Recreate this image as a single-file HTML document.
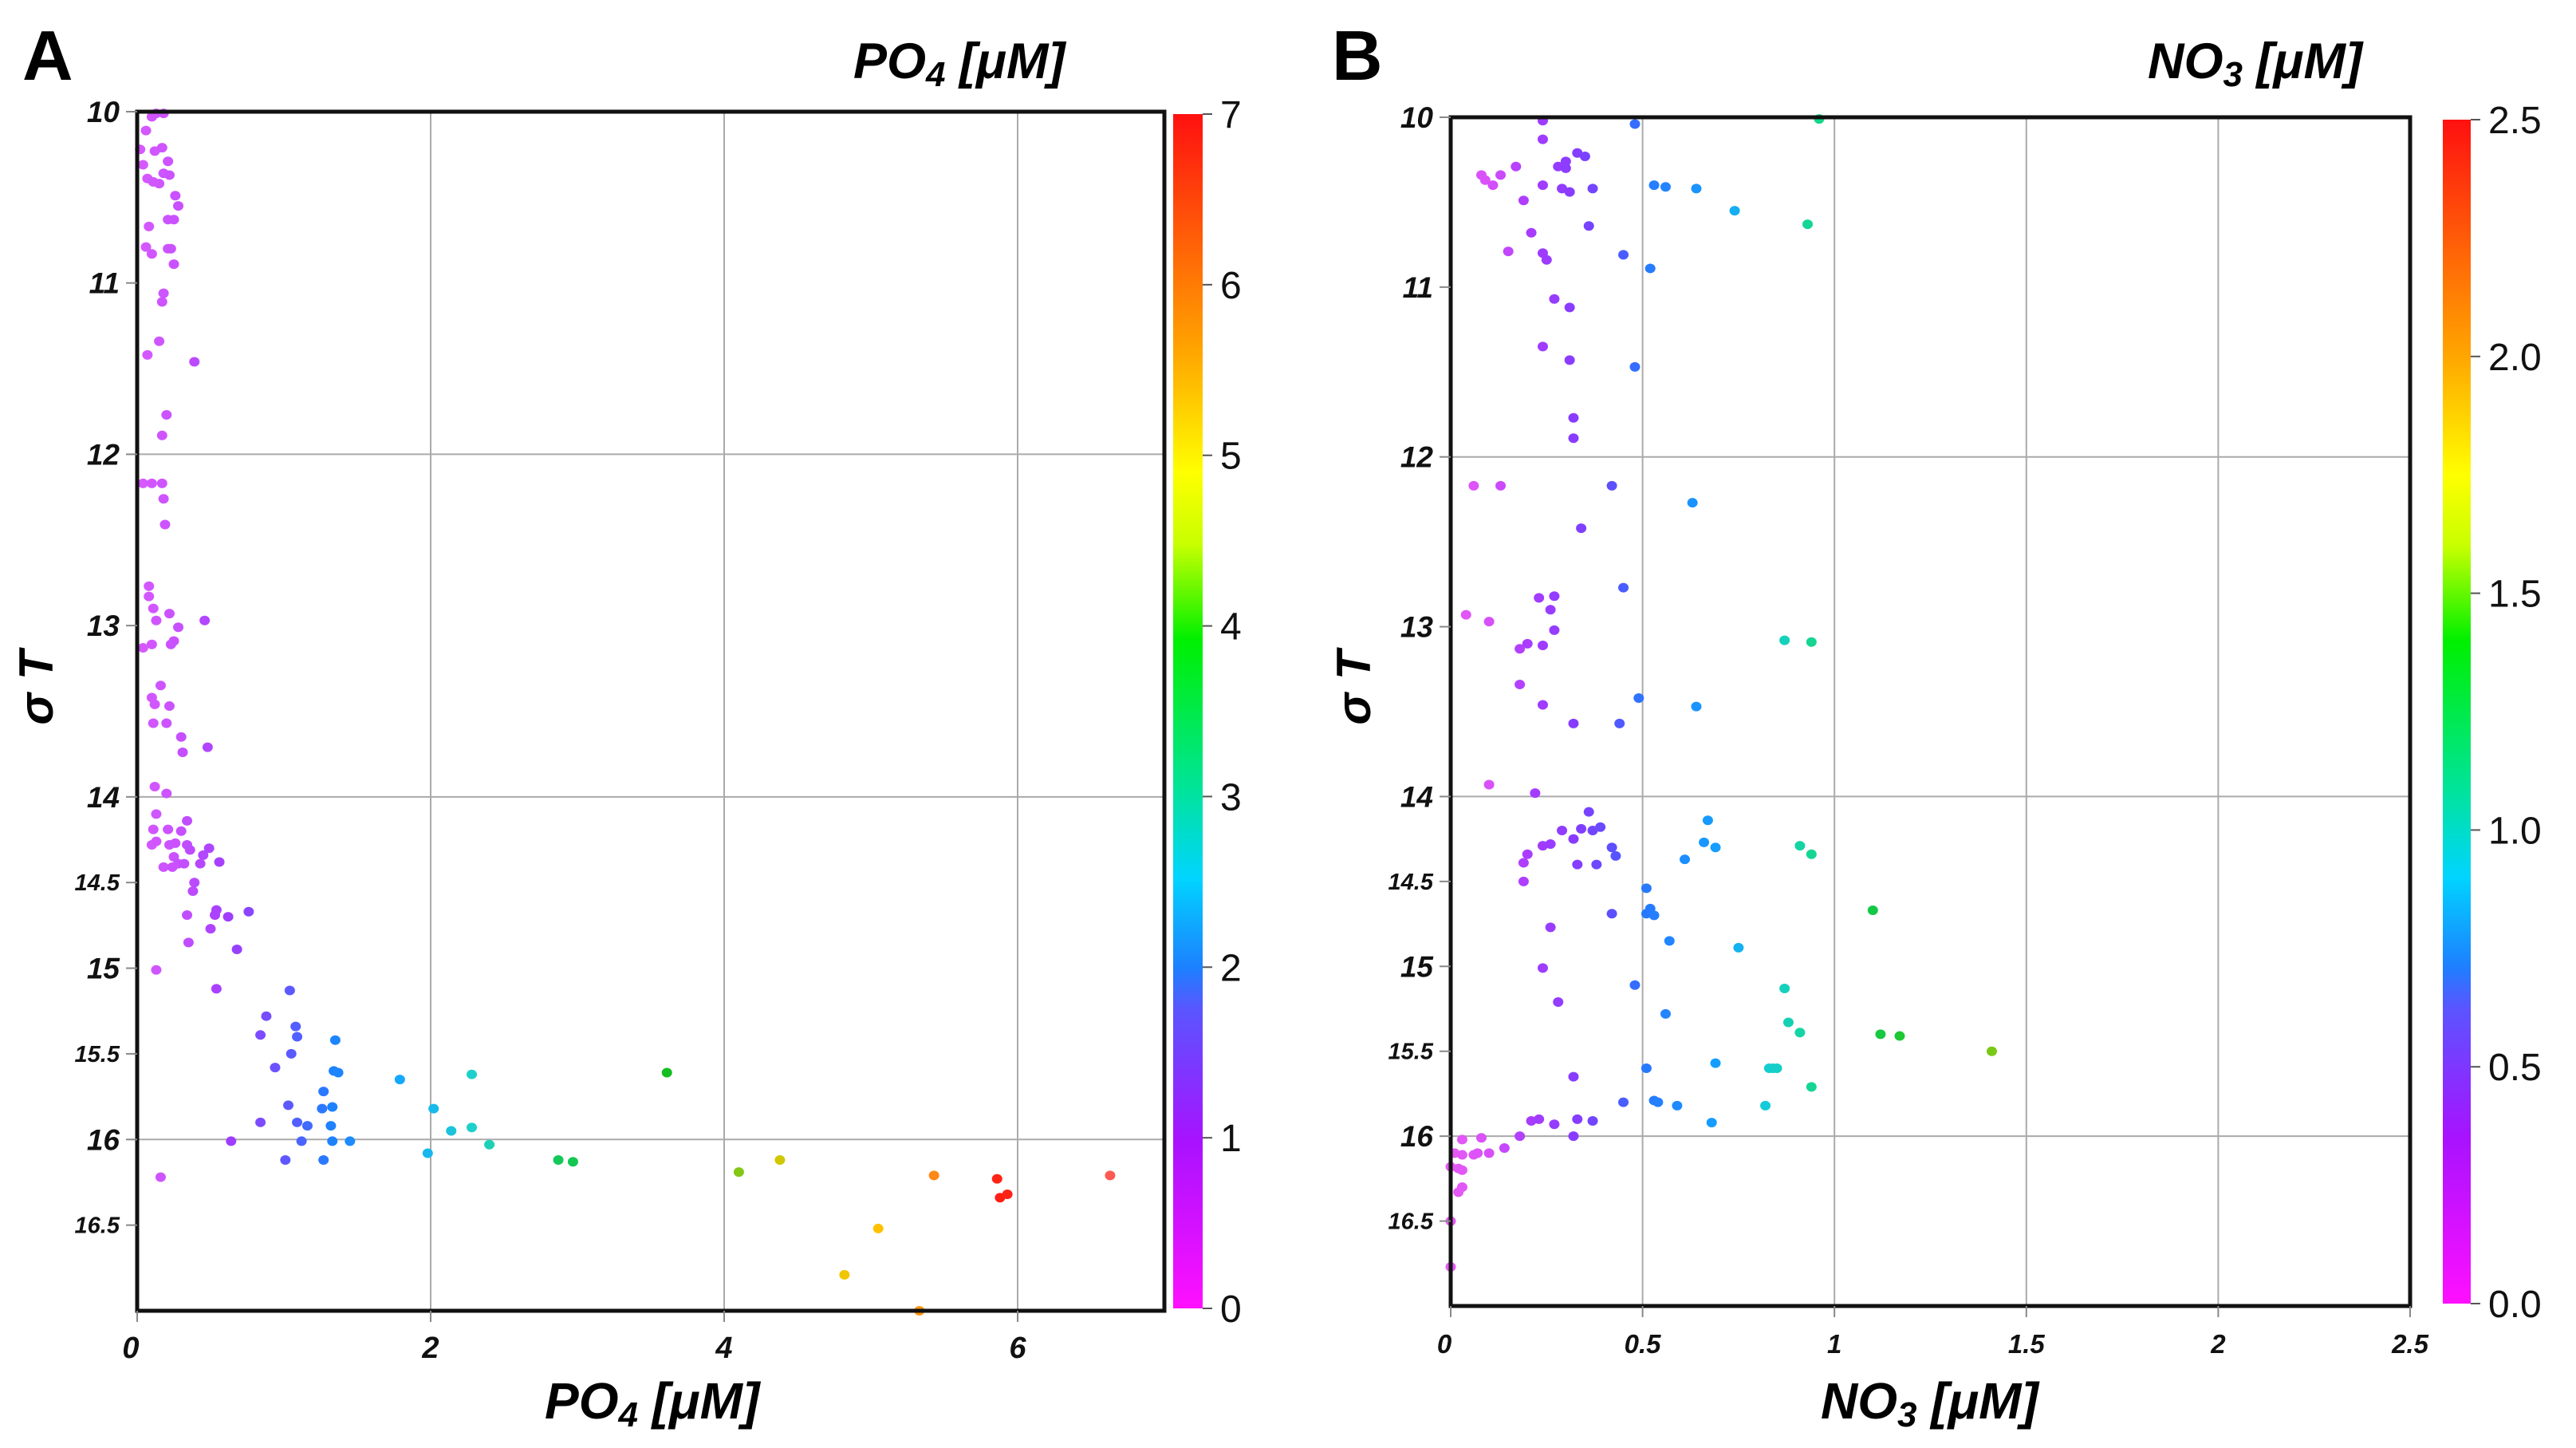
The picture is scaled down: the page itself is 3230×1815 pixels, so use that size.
<!DOCTYPE html>
<html><head><meta charset="utf-8"><style>
html,body{margin:0;padding:0;background:#fff}
svg{display:block}
text{font-family:"Liberation Sans",sans-serif}
.tk{font-weight:bold;font-style:italic;fill:#111}
</style></head><body>
<svg id="fig" width="3230" height="1815" viewBox="0 0 3230 1815" xmlns="http://www.w3.org/2000/svg">
<defs>
<linearGradient id="cmap" x1="0" y1="1" x2="0" y2="0">
<stop offset="0" stop-color="#ff10ff"/><stop offset="0.14" stop-color="#a812ff"/><stop offset="0.25" stop-color="#5a55ff"/><stop offset="0.285" stop-color="#1d80ff"/><stop offset="0.36" stop-color="#00d4ff"/><stop offset="0.43" stop-color="#00e3a0"/><stop offset="0.56" stop-color="#00f000"/><stop offset="0.64" stop-color="#c8ff00"/><stop offset="0.7" stop-color="#ffff00"/><stop offset="0.8" stop-color="#ffa600"/><stop offset="1" stop-color="#ff1010"/>
</linearGradient>
</defs>
<g id="gA"></g>
<g id="gB"></g>
</svg>
<script>
// Panel A data: PO4 [uM] vs sigma T
const poX = [0.02,0.06,0.10,0.13,0.18,0.04,0.07,0.11,0.15,0.12,0.17,0.21,0.18,0.22,0.26,0.28,0.21,0.25,0.06,0.10,0.08,0.21,0.23,0.25,0.18,0.17,0.07,0.15,0.39,0.20,0.17,0.04,0.10,0.17,0.18,0.19,0.08,0.08,0.11,0.13,0.22,0.28,0.25,0.23,0.10,0.04,0.46,0.10,0.12,0.16,0.22,0.11,0.20,0.30,0.31,0.48,0.12,0.20,0.13,0.11,0.10,0.13,0.21,0.22,0.26,0.30,0.34,0.34,0.36,0.25,0.28,0.18,0.24,0.32,0.45,0.49,0.43,0.56,0.39,0.38,0.34,0.54,0.53,0.62,0.76,0.50,0.68,0.35,0.13,0.54,1.04,0.88,1.08,0.84,1.09,1.35,1.05,0.94,1.34,1.37,1.27,1.03,1.26,1.33,0.84,1.09,1.16,1.32,1.12,1.33,1.45,0.64,1.01,1.27,0.16,1.79,2.28,2.02,2.14,2.28,2.40,1.98,2.87,2.97,3.61,4.10,4.38,5.43,5.86,5.88,5.93,5.05,4.82,5.33,6.63];
const poY = [10.22,10.11,10.03,10.01,10.01,10.31,10.39,10.41,10.42,10.23,10.21,10.29,10.36,10.37,10.49,10.55,10.63,10.63,10.79,10.83,10.67,10.80,10.80,10.89,11.06,11.11,11.42,11.34,11.46,11.77,11.89,12.17,12.17,12.17,12.26,12.41,12.77,12.83,12.90,12.97,12.93,13.01,13.09,13.11,13.11,13.13,12.97,13.42,13.46,13.35,13.47,13.57,13.57,13.65,13.74,13.71,13.94,13.98,14.10,14.19,14.28,14.26,14.19,14.28,14.27,14.20,14.14,14.28,14.31,14.35,14.39,14.41,14.41,14.39,14.34,14.30,14.39,14.38,14.50,14.55,14.69,14.66,14.69,14.70,14.67,14.77,14.89,14.85,15.01,15.12,15.13,15.28,15.34,15.39,15.40,15.42,15.50,15.58,15.60,15.61,15.72,15.80,15.82,15.81,15.90,15.90,15.92,15.92,16.01,16.01,16.01,16.01,16.12,16.12,16.22,15.65,15.62,15.82,15.95,15.93,16.03,16.08,16.12,16.13,15.61,16.19,16.12,16.21,16.23,16.34,16.32,16.52,16.79,17.0,16.21];
// Panel B data: NO3 [uM] vs sigma T
const noX = [0.24,0.48,0.96,0.24,0.33,0.35,0.28,0.30,0.30,0.17,0.08,0.09,0.13,0.11,0.24,0.29,0.31,0.37,0.19,0.53,0.56,0.64,0.74,0.93,0.36,0.21,0.15,0.24,0.25,0.45,0.52,0.27,0.31,0.24,0.31,0.48,0.32,0.32,0.06,0.13,0.42,0.63,0.34,0.45,0.23,0.27,0.26,0.04,0.10,0.27,0.87,0.94,0.18,0.20,0.24,0.18,0.49,0.64,0.24,0.32,0.44,0.10,0.22,0.36,0.67,0.29,0.34,0.37,0.39,0.32,0.24,0.26,0.42,0.66,0.69,0.91,0.94,0.20,0.19,0.43,0.61,0.33,0.38,0.19,0.51,0.52,0.51,0.53,0.42,1.10,0.26,0.57,0.75,0.24,0.48,0.87,0.28,0.56,0.88,0.91,1.12,1.17,1.41,0.69,0.51,0.83,0.84,0.85,0.32,0.94,0.45,0.53,0.54,0.59,0.82,0.21,0.23,0.33,0.37,0.27,0.68,0.32,0.18,0.03,0.08,0.14,0.10,0.01,0.03,0.06,0.07,0.00,0.02,0.03,0.03,0.02,0.00,0.00];
const noY = [10.02,10.04,10.01,10.13,10.21,10.23,10.29,10.26,10.30,10.29,10.34,10.37,10.34,10.40,10.40,10.42,10.44,10.42,10.49,10.40,10.41,10.42,10.55,10.63,10.64,10.68,10.79,10.80,10.84,10.81,10.89,11.07,11.12,11.35,11.43,11.47,11.77,11.89,12.17,12.17,12.17,12.27,12.42,12.77,12.83,12.82,12.90,12.93,12.97,13.02,13.08,13.09,13.13,13.10,13.11,13.34,13.42,13.47,13.46,13.57,13.57,13.93,13.98,14.09,14.14,14.20,14.19,14.20,14.18,14.25,14.29,14.28,14.30,14.27,14.30,14.29,14.34,14.34,14.39,14.35,14.37,14.40,14.40,14.50,14.54,14.66,14.69,14.70,14.69,14.67,14.77,14.85,14.89,15.01,15.11,15.13,15.21,15.28,15.33,15.39,15.40,15.41,15.50,15.57,15.60,15.60,15.60,15.60,15.65,15.71,15.80,15.79,15.80,15.82,15.82,15.91,15.90,15.90,15.91,15.93,15.92,16.00,16.00,16.02,16.01,16.07,16.10,16.10,16.11,16.11,16.10,16.18,16.19,16.20,16.30,16.33,16.50,16.77];
const aXTicks = [0,2,4,6];
const bXTicks = [0,0.5,1,1.5,2,2.5];
const yTicks = [10,11,12,13,14,14.5,15,15.5,16,16.5];
const aCbTicks = [0,1,2,3,4,5,6,7];
const bCbTicks = ["0.0","0.5","1.0","1.5","2.0","2.5"];

const NS="http://www.w3.org/2000/svg";
// dot colour ramps (styling, keyed on the point's own value)
const stopsA=[[0,[215,90,255]],[0.04,[200,80,255]],[0.09,[160,60,255]],[0.15,[90,90,255]],[0.19,[30,130,255]],[0.26,[20,170,255]],[0.33,[30,210,200]],[0.41,[20,200,90]],[0.52,[20,190,30]],[0.59,[140,200,20]],[0.63,[215,200,0]],[0.72,[255,195,0]],[0.78,[255,130,20]],[0.84,[255,30,20]],[1,[250,120,110]]];
const stopsB=[[0,[230,90,245]],[0.04,[215,80,250]],[0.08,[170,60,255]],[0.13,[135,60,255]],[0.17,[90,80,255]],[0.2,[40,120,255]],[0.28,[20,160,255]],[0.33,[20,205,215]],[0.38,[20,215,140]],[0.44,[20,200,70]],[0.5,[40,200,30]],[0.57,[130,200,20]],[1,[255,40,20]]];
function cmap(st,t){t=Math.max(0,Math.min(1,t));for(let i=1;i<st.length;i++){if(t<=st[i][0]){const a=st[i-1],b=st[i],f=(t-a[0])/(b[0]-a[0]);const c=a[1].map((v,k)=>Math.round(v+(b[1][k]-v)*f));return `rgb(${c})`;}}return `rgb(${st[st.length-1][1]})`;}
function mk(p,tag,at,txt){const e=document.createElementNS(NS,tag);for(const k in at)e.setAttribute(k,at[k]);if(txt!==undefined)e.textContent=txt;p.appendChild(e);return e;}

function panel(g,cfg){
  const xs=v=>cfg.L+(v-cfg.x0)/(cfg.x1-cfg.x0)*(cfg.R-cfg.L);
  const ys=v=>cfg.T+(v-10)/7*(cfg.B-cfg.T);
  cfg.gridX.forEach(v=>{const l=mk(g,'line',{x1:xs(v),x2:xs(v),y1:cfg.T,y2:cfg.B,stroke:'#aaa','stroke-width':2});
    
    });
  [12,14,16].forEach(v=>{const l=mk(g,'line',{x1:cfg.L,x2:cfg.R,y1:ys(v),y2:ys(v),stroke:'#aaa','stroke-width':2});
    
    });
  cfg.px.forEach((v,i)=>{const c=mk(g,'ellipse',{cx:xs(v),cy:ys(cfg.py[i]),rx:6.5,ry:6,fill:cmap(cfg.st,v/cfg.x1)});
    
    });
  const f=mk(g,'rect',{x:cfg.L,y:cfg.T,width:cfg.R-cfg.L,height:cfg.B-cfg.T,fill:'none',stroke:'#111','stroke-width':5});
  
  
  yTicks.forEach(v=>{const y=ys(v);mk(g,'line',{x1:cfg.L-14,x2:cfg.L,y1:y,y2:y,stroke:'#888','stroke-width':2});
    const small=(v%1!==0);
    const t=mk(g,'text',{x:cfg.L-22,y:y+(small?10:13),'text-anchor':'end','font-size':small?29:37,class:'tk'},String(v));
    
    });
  cfg.xt.forEach(v=>{const x=xs(v);mk(g,'line',{x1:x,x2:x,y1:cfg.B,y2:cfg.B+14,stroke:'#888','stroke-width':2});
    const t=mk(g,'text',{x:x-(v===0?8:0),y:cfg.B+59,'text-anchor':'middle','font-size':cfg.xfs,class:'tk'},String(v));
    
    });
  const cb=mk(g,'rect',{x:cfg.cbL,y:cfg.T+3,width:cfg.cbW,height:cfg.B-cfg.T-6,fill:'url(#cmap)'});
  
  
  cfg.cbt.forEach((s,i)=>{const y=cfg.T+3+(cfg.B-cfg.T-6)*(1-i/(cfg.cbt.length-1));
    mk(g,'line',{x1:cfg.cbL+cfg.cbW,x2:cfg.cbL+cfg.cbW+12,y1:y,y2:y,stroke:'#555','stroke-width':2});
    const t=mk(g,'text',{x:cfg.cbL+cfg.cbW+22,y:y+17,'font-size':48,fill:'#111','font-family':'DejaVu Sans,sans-serif'},String(s));
    
    });
}
const gA=document.getElementById('gA'),gB=document.getElementById('gB');
panel(gA,{L:172,R:1460,T:140,B:1643,x0:0,x1:7,gridX:[2,4,6],px:poX,py:poY,xt:aXTicks,xfs:38,cbL:1471,cbW:37,cbt:aCbTicks,st:stopsA});
panel(gB,{L:1819,R:3022,T:147,B:1637,x0:0,x1:2.5,gridX:[0.5,1,1.5,2],px:noX,py:noY,xt:bXTicks,xfs:33,cbL:3063,cbW:35,cbt:bCbTicks,st:stopsB});
</script>
<svg style="position:absolute;left:0;top:0" width="3230" height="1815">
<text x="28" y="100" font-size="88" font-weight="bold" font-family="Liberation Sans,sans-serif">A</text>
<text x="1670" y="100" font-size="88" font-weight="bold" font-family="Liberation Sans,sans-serif">B</text>
<text x="1070" y="98" font-size="63" font-weight="bold" font-style="italic" font-family="Liberation Sans,sans-serif">PO<tspan font-size="44" dy="10">4</tspan><tspan dy="-10"> [μM]</tspan></text>
<text x="2693" y="98" font-size="63" font-weight="bold" font-style="italic" font-family="Liberation Sans,sans-serif">NO<tspan font-size="44" dy="10">3</tspan><tspan dy="-10"> [μM]</tspan></text>
<text x="683" y="1778" font-size="64" font-weight="bold" font-style="italic" font-family="Liberation Sans,sans-serif">PO<tspan font-size="44" dy="10">4</tspan><tspan dy="-10"> [μM]</tspan></text>
<text x="2283" y="1778" font-size="64" font-weight="bold" font-style="italic" font-family="Liberation Sans,sans-serif">NO<tspan font-size="44" dy="10">3</tspan><tspan dy="-10"> [μM]</tspan></text>
<text transform="translate(66,862) rotate(-90)" text-anchor="middle" font-size="60" font-weight="bold" font-style="italic" font-family="Liberation Sans,sans-serif">σ T</text>
<text transform="translate(1718,862) rotate(-90)" text-anchor="middle" font-size="60" font-weight="bold" font-style="italic" font-family="Liberation Sans,sans-serif">σ T</text>
</svg>
</body></html>
